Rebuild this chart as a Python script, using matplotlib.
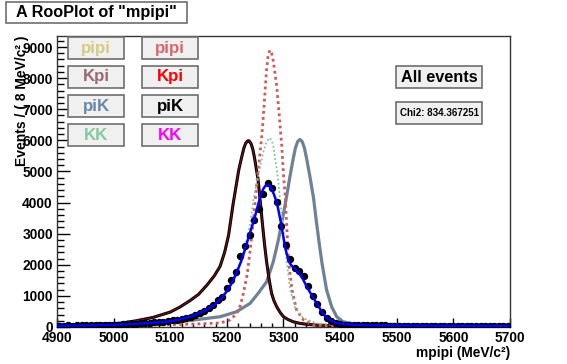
import numpy as np
import matplotlib
matplotlib.use("Agg")
import matplotlib.pyplot as plt
from matplotlib.patches import Rectangle
from matplotlib.ticker import MultipleLocator

plt.rcParams['font.family'] = ['Liberation Sans', 'DejaVu Sans']
plt.rcParams['font.weight'] = 'bold'

# data points, 8 MeV bins
data_x = np.arange(4904, 5700, 8)
data_y = [45, 40, 50, 45, 50, 55, 50, 60, 65, 60, 70, 75, 70, 80, 85, 90, 100, 105,
          115, 125, 135, 150, 160, 175, 190, 210, 230, 255, 285,
          330, 380, 450, 520, 600, 720, 860, 950, 1260, 1520, 1780, 2270, 2600, 2950,
          3450, 3800, 4260, 4620, 4470, 4010, 3240, 2620, 2200, 1890, 1810, 1630, 1320,
          1000, 730, 490, 290, 180, 120, 90,
          75, 70, 65, 60, 60, 55, 55, 50, 50, 50, 45, 45, 45, 40, 45, 40, 40, 35, 40,
          35, 35, 35, 30, 35, 30, 30, 30, 25, 30, 25, 25, 25, 25, 20, 25, 20, 20]

# total fit (blue)
tot_x = [4900, 4950, 5000, 5050, 5100, 5120, 5140, 5164, 5180, 5190, 5200, 5210, 5218,
         5226, 5233, 5240, 5248, 5254, 5259, 5264, 5268, 5271, 5274, 5277, 5280, 5283,
         5287, 5290, 5293, 5296, 5299, 5302, 5305, 5308, 5311, 5314, 5317, 5320, 5327,
         5334, 5341, 5348, 5354, 5360, 5366, 5372, 5380, 5390, 5400, 5420, 5450, 5500,
         5600, 5700]
tot_y = [40, 50, 70, 110, 180, 260, 360, 550, 740, 920, 1150, 1450, 1780,
         2150, 2550, 2980, 3450, 3850, 4200, 4430, 4540, 4570, 4560, 4490, 4390, 4270,
         4060, 3850, 3580, 3300, 2970, 2650, 2400, 2200, 2060, 1980, 1920, 1880, 1740,
         1550, 1300, 1080, 900, 720, 540, 380, 240, 150, 110, 75, 60, 50,
         40, 35]

# black component
kpi_x = [4900, 4950, 5000, 5011, 5040, 5070, 5100, 5117, 5135, 5150, 5165, 5178, 5188,
         5196, 5203, 5211, 5216, 5221, 5226, 5230, 5233, 5236, 5238, 5240, 5243, 5246,
         5249, 5252, 5255, 5258, 5261, 5264, 5267, 5270, 5273, 5276, 5279, 5283, 5288,
         5294, 5300, 5308, 5317, 5328, 5340, 5360, 5400, 5500, 5600, 5700]
kpi_y = [55, 80, 110, 120, 200, 310, 480, 640, 850, 1050, 1350, 1650, 1950,
         2400, 2950, 3950, 4500, 5050, 5450, 5750, 5900, 5970, 5990, 5970, 5880, 5700,
         5420, 5080, 4750, 4220, 3650, 3100, 2580, 2120, 1730, 1380, 1080, 850, 650,
         470, 330, 240, 170, 120, 90, 60, 35, 20, 15, 12]

# grey component
pik_x = [4900, 5000, 5070, 5130, 5188, 5217, 5241, 5256, 5270, 5282, 5291, 5300, 5306,
         5311, 5317, 5321, 5325, 5329, 5333, 5337, 5341, 5347, 5353, 5358, 5363, 5368,
         5376, 5385, 5394, 5405, 5420, 5435, 5500, 5600, 5700]
pik_y = [40, 90, 140, 200, 330, 490, 760, 1100, 1450, 2100, 2800, 3650, 4250,
         4800, 5400, 5750, 5960, 6030, 5960, 5750, 5400, 4800, 4150, 3400, 2700, 2050,
         1200, 650, 330, 170, 115, 95, 80, 70, 65]

# red dotted component
pipi_x = [4900, 5000, 5100, 5150, 5188, 5205, 5217, 5224, 5230, 5236, 5241, 5247, 5253,
          5258, 5262, 5266, 5270, 5273, 5276, 5279, 5282, 5288, 5293, 5297, 5300, 5303,
          5306, 5309, 5315, 5323, 5335, 5353, 5380, 5450, 5700]
pipi_y = [25, 45, 75, 100, 130, 220, 420, 700, 1150, 1700, 2450, 3450, 4650,
          5500, 6200, 7200, 8250, 8750, 8900, 8800, 8550, 7750, 6700, 5800, 4900, 4200,
          3150, 2100, 1200, 550, 230, 70, 30, 15, 8]

# green dotted component
kk_x = [4900, 5000, 5064, 5120, 5164, 5190, 5210, 5223, 5232, 5241, 5247, 5253, 5258,
        5264, 5270, 5275, 5279, 5282, 5288, 5291, 5294, 5300, 5306, 5312, 5320, 5335,
        5359, 5400, 5500, 5700]
kk_y = [45, 85, 150, 240, 530, 900, 1500, 2050, 2600, 3300, 4100, 4650, 5070,
        5600, 5950, 6080, 6000, 5820, 5070, 4640, 4080, 3120, 2050, 1190, 650, 280,
        120, 50, 25, 15]

W, H = 567, 364
fig = plt.figure(figsize=(W / 100, H / 100), dpi=100)
ax = fig.add_axes([57 / W, 1 - 327 / H, (510 - 57) / W, (327 - 36) / H])

ax.plot(pik_x, pik_y, color='#6d8295', lw=2.3, zorder=2)
ax.plot(kpi_x, kpi_y, color='black', lw=2.2, zorder=3)
ax.plot(kpi_x, kpi_y, color='#a01010', lw=0.6, zorder=3)
ax.plot(pipi_x, pipi_y, color='#d05a5a', lw=2.0, ls=(0, (1, 1.2)), zorder=4)
ax.plot(kk_x, kk_y, color='#7dc79a', lw=1.3, ls=(0, (1, 1.3)), zorder=4)
ax.errorbar(data_x, data_y, yerr=np.sqrt(data_y), fmt='o', color='black',
            ms=4.3, elinewidth=1, capsize=0, zorder=5)
ax.plot(tot_x, tot_y, color='#0000ff', lw=1.8, zorder=6)

ax.set_xlim(4900, 5700)
ax.set_ylim(0, 9354)
ax.xaxis.set_major_locator(MultipleLocator(100))
ax.xaxis.set_minor_locator(MultipleLocator(20))
ax.yaxis.set_major_locator(MultipleLocator(1000))
ax.yaxis.set_minor_locator(MultipleLocator(200))
ax.tick_params(axis='x', which='major', direction='in', length=6.5, width=1, pad=3)
ax.tick_params(axis='x', which='minor', direction='in', length=3.2, width=1)
ax.tick_params(axis='y', which='major', direction='in', length=9.4, width=1, pad=3)
ax.tick_params(axis='y', which='minor', direction='in', length=4.7, width=1)
ax.tick_params(top=False, right=False, labelsize=9.9)
for lab in ax.get_xticklabels() + ax.get_yticklabels():
    lab.set_fontweight('bold')
for sp in ax.spines.values():
    sp.set_color('#333333')
    sp.set_linewidth(1)


def box(x0, y0, x1, y1, text, color='black', size=12, face='#f0f0f0'):
    r = Rectangle((x0 / W, 1 - y1 / H), (x1 - x0) / W, (y1 - y0) / H,
                  transform=fig.transFigure, facecolor=face, edgecolor='#6e6e6e',
                  lw=1.2, zorder=10)
    fig.patches.append(r)
    fig.text((x0 + x1) / 2 / W, 1 - (y0 + y1) / 2 / H, text, color=color,
             fontsize=size, fontweight='bold', ha='center', va='center', zorder=11)


box(6, 2, 187, 23, 'A RooPlot of "mpipi"', size=11.7, face='white')

left_names = ['pipi', 'Kpi', 'piK', 'KK']
left_cols = ['#d4cc80', '#9a6a72', '#6a88a5', '#85c9a0']
right_cols = ['#d9686e', '#ff0000', '#000000', '#ff00ff']
rows = [(37, 59), (66, 88), (95, 117), (124, 146)]
for (t, b), name, lc, rc in zip(rows, left_names, left_cols, right_cols):
    box(68, t, 124, b, name, color=lc, size=12.2)
    box(142, t, 198, b, name, color=rc, size=12.2)

box(396, 66, 482, 88, 'All events', size=11.7)
box(396, 102, 482, 124, 'Chi2: 834.367251', size=7)

fig.text(510 / W, 1 - 353 / H, 'mpipi (MeV/c²)', ha='right', va='center',
         fontsize=9.9, fontweight='bold')
fig.text(22 / W, 1 - 36 / H, 'Events / ( 8 MeV/c² )', rotation=90, ha='center',
         va='top', fontsize=10, fontweight='bold')

fig.savefig('out.png', dpi=100)
